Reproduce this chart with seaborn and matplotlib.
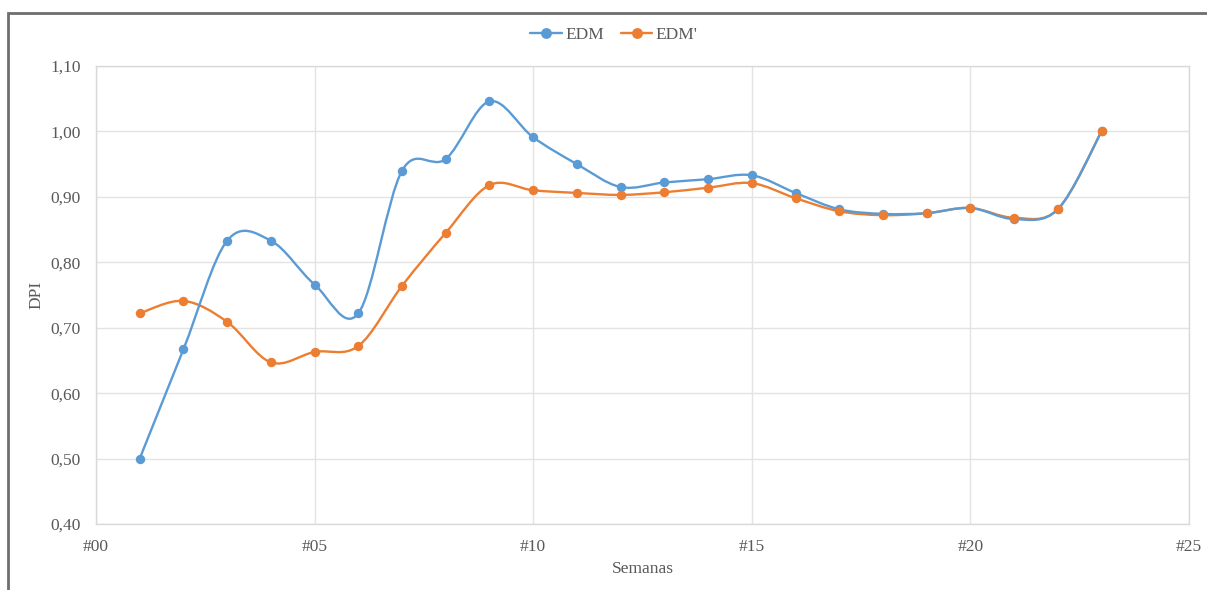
import matplotlib
matplotlib.use("Agg")
import matplotlib.pyplot as plt
from matplotlib.path import Path
from matplotlib.patches import PathPatch, Rectangle
from matplotlib.lines import Line2D
from matplotlib.ticker import FuncFormatter, MultipleLocator
import numpy as np
import pandas as pd
import seaborn as sns

# Weekly DPI values for both models
semanas = list(range(1, 24))
edm = [0.500, 0.667, 0.833, 0.833, 0.766, 0.722, 0.940, 0.958, 1.046, 0.991,
       0.950, 0.915, 0.922, 0.927, 0.933, 0.906, 0.881, 0.874, 0.875, 0.883,
       0.866, 0.881, 1.000]
edm_prima = [0.722, 0.741, 0.709, 0.647, 0.663, 0.672, 0.764, 0.845, 0.918, 0.910,
             0.906, 0.903, 0.907, 0.914, 0.921, 0.898, 0.878, 0.872, 0.875, 0.883,
             0.868, 0.881, 1.000]
series_names = ["EDM", "EDM'"]
x_ticks = [0, 5, 10, 15, 20, 25]
x_tick_labels = ["#00", "#05", "#10", "#15", "#20", "#25"]

colors = {"EDM": "#5B9BD5", "EDM'": "#ED7D31"}
text_color = "#595959"
grid_color = "#E3E3E3"
fs = 12.5

sns.set_theme(style="white")
plt.rcParams["font.family"] = ["Liberation Serif", "DejaVu Serif"]

df = pd.DataFrame({
    "Semanas": semanas * 2,
    "DPI": edm + edm_prima,
    "Serie": [series_names[0]] * len(edm) + [series_names[1]] * len(edm_prima),
})

fig = plt.figure(figsize=(12.07, 5.90), dpi=100)
ax = fig.add_axes([96 / 1207, 1 - 524 / 590, (1189 - 96) / 1207, (524 - 66) / 590])


def smooth_path(xs, ys):
    """Cubic Bezier path through the points (Catmull-Rom tangents)."""
    pts = np.column_stack([xs, ys]).astype(float)
    n = len(pts)
    verts = [pts[0]]
    codes = [Path.MOVETO]
    for i in range(n - 1):
        p0 = pts[i - 1] if i > 0 else pts[i]
        p1 = pts[i]
        p2 = pts[i + 1]
        p3 = pts[i + 2] if i + 2 < n else pts[i + 1]
        c1 = p1 + (p2 - p0) / 6.0
        c2 = p2 - (p3 - p1) / 6.0
        verts += [c1, c2, p2]
        codes += [Path.CURVE4] * 3
    return Path(verts, codes)


# Smoothed connecting curves, drawn first so the markers sit on top
for name in series_names[::-1]:
    sub = df[df["Serie"] == name]
    patch = PathPatch(smooth_path(sub["Semanas"], sub["DPI"]), facecolor="none",
                      edgecolor=colors[name], lw=1.7, zorder=2)
    ax.add_patch(patch)

sns.scatterplot(data=df[df["Serie"] == "EDM'"], x="Semanas", y="DPI",
                color=colors["EDM'"], s=46, linewidth=0, ax=ax, zorder=4, legend=False)
sns.scatterplot(data=df[df["Serie"] == "EDM"], x="Semanas", y="DPI",
                color=colors["EDM"], s=46, linewidth=0, ax=ax, zorder=3, legend=False)

ax.set_xlim(0, 25)
ax.set_ylim(0.40, 1.10)
ax.set_xticks(x_ticks)
ax.set_xticklabels(x_tick_labels)
ax.yaxis.set_major_locator(MultipleLocator(0.10))
ax.yaxis.set_major_formatter(FuncFormatter(lambda v, p: f"{v:.2f}".replace(".", ",")))

ax.grid(True, color=grid_color, lw=1.0)
ax.set_axisbelow(True)
for side in ["left", "right", "top", "bottom"]:
    ax.spines[side].set_visible(True)
    ax.spines[side].set_color("#D9D9D9")
    ax.spines[side].set_linewidth(1.0)

ax.tick_params(axis="both", length=0, labelsize=fs, colors=text_color)
ax.tick_params(axis="x", pad=11)
ax.tick_params(axis="y", pad=11)
ax.set_xlabel("Semanas", fontsize=fs, color=text_color)
ax.set_ylabel("DPI", fontsize=fs, color=text_color)
ax.xaxis.set_label_coords(0.5, -0.08)
ax.yaxis.set_label_coords(-0.0476, 0.5)

handles = [Line2D([], [], color=colors[n], lw=1.7, marker="o", markersize=6.8) for n in series_names]
fig.legend(handles, series_names, loc="center", bbox_to_anchor=(614 / 1207, 1 - 35 / 590),
           ncol=2, frameon=False, fontsize=fs, labelcolor=text_color,
           handlelength=1.8, handletextpad=0.2, columnspacing=1.0, numpoints=1)

# Outer frame around the chart
frame = Rectangle((8 / 1207, -0.1), 1.2, 1 - 13 / 590 + 0.1, transform=fig.transFigure,
                  facecolor="none", edgecolor="#6E6E6E", lw=2.0, clip_on=False)
fig.patches.append(frame)

fig.savefig("out.png", dpi=100, facecolor="white")
